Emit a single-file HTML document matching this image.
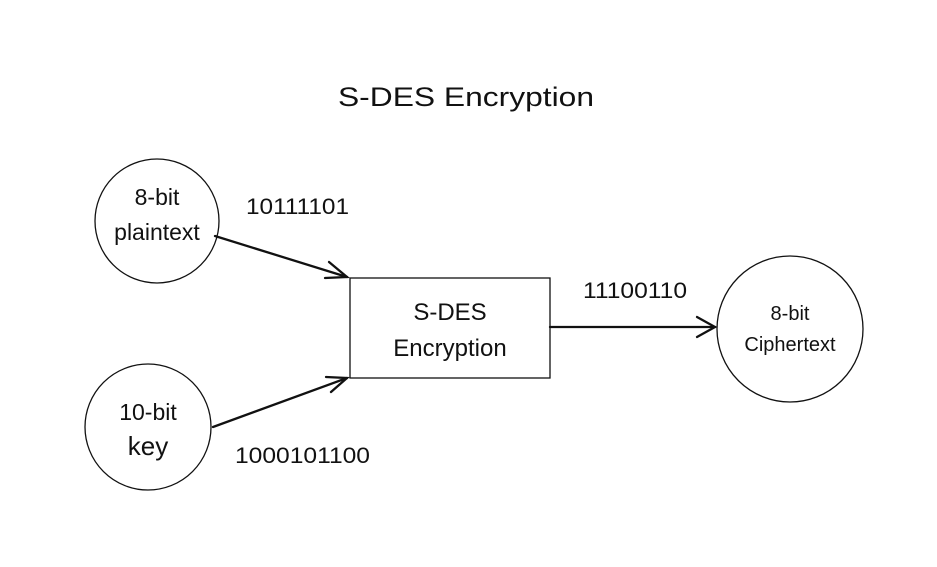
<!DOCTYPE html>
<html><head><style>
body{margin:0;background:#fff;width:937px;height:562px;overflow:hidden}
</style></head><body>
<svg width="937" height="562" xmlns="http://www.w3.org/2000/svg" font-family="Liberation Sans, sans-serif">
<rect width="937" height="562" fill="#fff"/>
<text x="338" y="106" font-size="27" textLength="256" lengthAdjust="spacingAndGlyphs" fill="#111">S-DES Encryption</text>
<circle cx="157" cy="221" r="62" fill="none" stroke="#111" stroke-width="1.3"/>
<text x="157" y="205" font-size="23" text-anchor="middle" fill="#111">8-bit</text>
<text x="157" y="240" font-size="23" text-anchor="middle" fill="#111">plaintext</text>
<circle cx="148" cy="427" r="63" fill="none" stroke="#111" stroke-width="1.3"/>
<text x="148" y="420" font-size="23" text-anchor="middle" fill="#111">10-bit</text>
<text x="148" y="455" font-size="26" text-anchor="middle" fill="#111">key</text>
<circle cx="790" cy="329" r="73" fill="none" stroke="#111" stroke-width="1.3"/>
<text x="790" y="320" font-size="20" text-anchor="middle" fill="#111">8-bit</text>
<text x="790" y="351" font-size="20" text-anchor="middle" fill="#111">Ciphertext</text>
<rect x="350" y="278" width="200" height="100" fill="none" stroke="#111" stroke-width="1.3"/>
<text x="450" y="320" font-size="24" text-anchor="middle" fill="#111">S-DES</text>
<text x="450" y="356" font-size="24" text-anchor="middle" fill="#111">Encryption</text>
<g stroke="#111" stroke-width="2.3" fill="none" stroke-linecap="round">
<line x1="215" y1="236" x2="347" y2="277"/>
<polyline points="329,262 347,277 325,278"/>
<line x1="213" y1="427" x2="347" y2="378"/>
<polyline points="326,377 347,378 331,392"/>
<line x1="550" y1="327" x2="715" y2="327"/>
<polyline points="697,317 715,327 697,337"/>
</g>
<text x="246" y="214" font-size="22" textLength="103" lengthAdjust="spacingAndGlyphs" fill="#111">10111101</text>
<text x="583" y="298" font-size="22" textLength="104" lengthAdjust="spacingAndGlyphs" fill="#111">11100110</text>
<text x="235" y="463" font-size="22" textLength="135" lengthAdjust="spacingAndGlyphs" fill="#111">1000101100</text>
</svg>
</body></html>
